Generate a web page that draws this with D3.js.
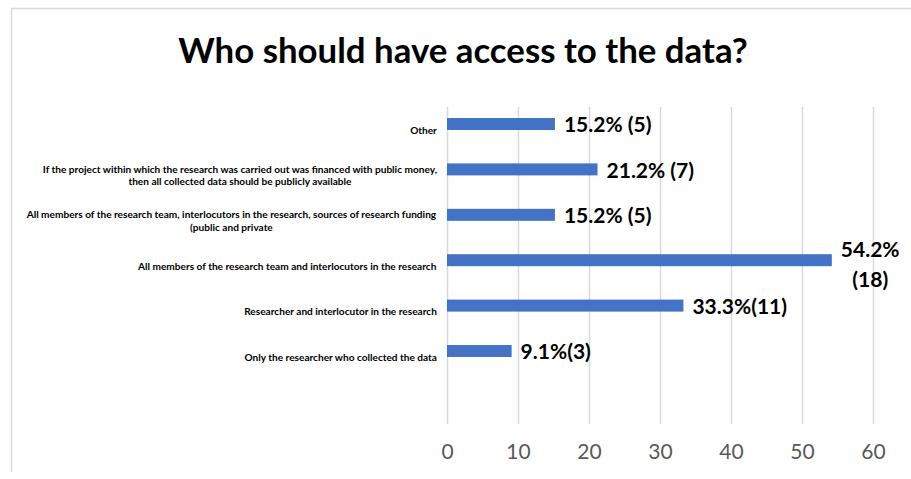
<!DOCTYPE html>
<html lang="en">
<head>
<meta charset="UTF-8">
<title>Who should have access to the data?</title>
<style>
  body { margin: 0; background: #fff; }
  svg { display: block; }
  text { font-family: Lato, "Open Sans", sans-serif; }
</style>
</head>
<body>
<svg id="chart" width="911" height="479"></svg>

<script src="https://cdn.jsdelivr.net/npm/d3@7"></script>
<script>
// chart values, top to bottom as in the picture
var categories = [
  ["Other"],
  ["If the project within which the research was carried out was financed with public money,",
   "then all collected data should be publicly available"],
  ["All members of the research team, interlocutors in the research, sources of research funding",
   "(public and private"],
  ["All members of the research team and interlocutors in the research"],
  ["Researcher and interlocutor in the research"],
  ["Only the researcher who collected the data"]
];
var percents = [15.2, 21.2, 15.2, 54.2, 33.3, 9.1];
var valueLabels = [
  ["15.2% (5)"],
  ["21.2% (7)"],
  ["15.2% (5)"],
  ["54.2%", "(18)"],
  ["33.3%(11)"],
  ["9.1%(3)"]
];
var xTicks = [0, 10, 20, 30, 40, 50, 60];

var svg = d3.select("#chart");

// frame of the chart area (cut at right and bottom)
svg.append("path")
  .attr("d", "M11.5,472V8.5H911")
  .attr("fill", "none")
  .attr("stroke", "#d9d9d9")
  .attr("stroke-width", 1.5);

svg.append("text")
  .attr("x", 463)
  .attr("y", 63)
  .attr("text-anchor", "middle")
  .attr("font-weight", 700)
  .attr("font-size", 34.8)
  .attr("fill", "#000")
  .text("Who should have access to the data?");

var x = d3.scaleLinear().domain([0, 60]).range([447, 873]);
var y = d3.scalePoint().domain(d3.range(categories.length)).range([124, 351]);
var barH = 12;

// vertical grid + tick labels
var xAxis = svg.append("g")
  .attr("transform", "translate(0,424)")
  .call(d3.axisBottom(x).tickValues(xTicks).tickSize(-317).tickPadding(20));
xAxis.select(".domain").remove();
xAxis.selectAll(".tick line")
  .attr("stroke", "#d9d9d9")
  .attr("stroke-width", 1.5);
xAxis.selectAll(".tick text")
  .attr("font-family", "Lato, sans-serif")
  .attr("font-size", 21)
  .attr("fill", "#595959");

// bars
svg.append("g").selectAll("rect")
  .data(percents)
  .join("rect")
  .attr("x", x(0))
  .attr("y", function(d, i) { return y(i) - barH / 2; })
  .attr("width", function(d) { return x(d) - x(0); })
  .attr("height", barH)
  .attr("fill", "#4472c4");

// category labels: centered block, right edge at the axis
var catG = svg.append("g").selectAll("g")
  .data(categories)
  .join("g");
catG.each(function(lines, i) {
  var g = d3.select(this);
  var lh = 12.7;
  var t = g.append("text")
    .attr("font-size", 10.1)
    .attr("font-weight", 700)
    .attr("fill", "#000")
    .attr("text-anchor", "middle");
  t.selectAll("tspan")
    .data(lines)
    .join("tspan")
    .attr("x", 0)
    .attr("y", function(d, j) { return (j - (lines.length - 1) / 2) * lh; })
    .attr("dy", "0.35em")
    .text(function(d) { return d; });
  var w = t.node().getBBox().width;
  g.attr("transform", "translate(" + (437 - w / 2) + "," + (y(i) + 6) + ")");
});

// value labels
var valG = svg.append("g").selectAll("g")
  .data(valueLabels)
  .join("g");
valG.each(function(lines, i) {
  var g = d3.select(this);
  var lh = 30;
  var t = g.append("text")
    .attr("font-size", 21)
    .attr("font-weight", 700)
    .attr("fill", "#000")
    .attr("text-anchor", "middle");
  t.selectAll("tspan")
    .data(lines)
    .join("tspan")
    .attr("x", 0)
    .attr("y", function(d, j) { return (j - (lines.length - 1) / 2) * lh; })
    .attr("dy", "0.35em")
    .text(function(d) { return d; });
  var w = t.node().getBBox().width;
  var dyBlock = lines.length > 1 ? 4 : 1;
  g.attr("transform", "translate(" + (x(percents[i]) + 9 + w / 2) + "," + (y(i) + dyBlock) + ")");
});
</script>
</body>
</html>
